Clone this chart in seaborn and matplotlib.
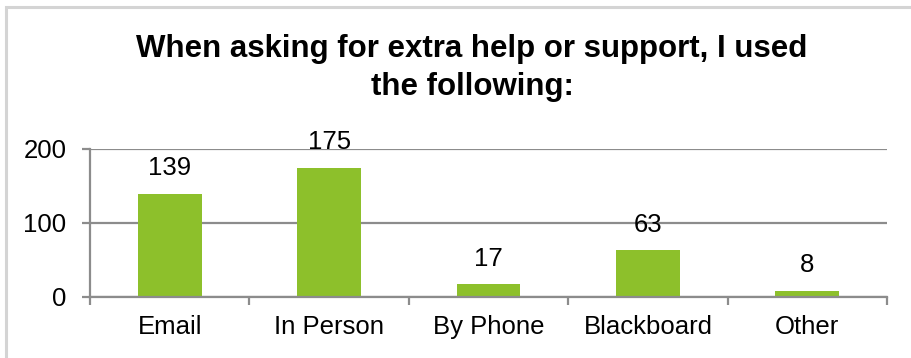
import matplotlib
matplotlib.use("Agg")
import matplotlib.pyplot as plt
import seaborn as sns
import pandas as pd
from matplotlib.patches import Rectangle

categories = ["Email", "In Person", "By Phone", "Blackboard", "Other"]
counts = [139, 175, 17, 63, 8]
y_ticks = [0, 100, 200]
title_lines = ["When asking for extra help or support, I used", "the following:"]

sns.set_theme(style="white")
plt.rcParams["font.family"] = ["Liberation Sans", "DejaVu Sans"]

df = pd.DataFrame({"source": categories, "count": counts})

W, H = 911, 358
fig = plt.figure(figsize=(W / 100, H / 100), dpi=100)
ax = fig.add_axes([90 / W, (H - 297) / H, (887 - 90) / W, (297 - 149) / H])

sns.barplot(data=df, x="source", y="count", color="#8dc02b", saturation=1,
            width=0.4, ax=ax, edgecolor="none")

grey = "#8c8c8c"
lw = 1.6
ax.set_ylim(0, 200)
ax.set_xlim(-0.5, len(categories) - 0.5)
ax.set_yticks(y_ticks)
ax.set_yticklabels([str(v) for v in y_ticks])
ax.set_xlabel("")
ax.set_ylabel("")

ax.yaxis.grid(True, color=grey, linewidth=lw)
ax.set_axisbelow(True)
for side in ["top", "right"]:
    ax.spines[side].set_visible(False)
for side in ["left", "bottom"]:
    ax.spines[side].set_color(grey)
    ax.spines[side].set_linewidth(lw)

# tick marks at category boundaries, labels at category centres
ax.set_xticks([i - 0.5 for i in range(len(categories) + 1)], minor=True)
ax.tick_params(axis="x", which="minor", length=6, width=lw, color=grey,
               direction="out", bottom=True)
ax.tick_params(axis="x", which="major", length=0, pad=13, labelsize=18.5,
               labelcolor="black")
ax.tick_params(axis="y", which="major", length=6, width=lw, color=grey,
               direction="out", left=True, pad=11, labelsize=18.5,
               labelcolor="black")

for i, v in enumerate(counts):
    ax.annotate(str(v), (i, v), xytext=(0, 13.5), textcoords="offset points",
                ha="center", va="baseline", fontsize=18.5, color="black")

fig.text(472 / W, (H - 57) / H, title_lines[0], ha="center", va="baseline",
         fontsize=22.5, fontweight="bold", color="black")
fig.text(472 / W, (H - 95) / H, title_lines[1], ha="center", va="baseline",
         fontsize=22.5, fontweight="bold", color="black")

# outer chart frame, running past the right and bottom edges
fig.patches.append(Rectangle((6 / W, -0.1), 1.2, (H - 7) / H + 0.1,
                             transform=fig.transFigure, fill=False,
                             edgecolor="#d4d4d4", linewidth=2.2))

fig.savefig("out.png", dpi=100)
